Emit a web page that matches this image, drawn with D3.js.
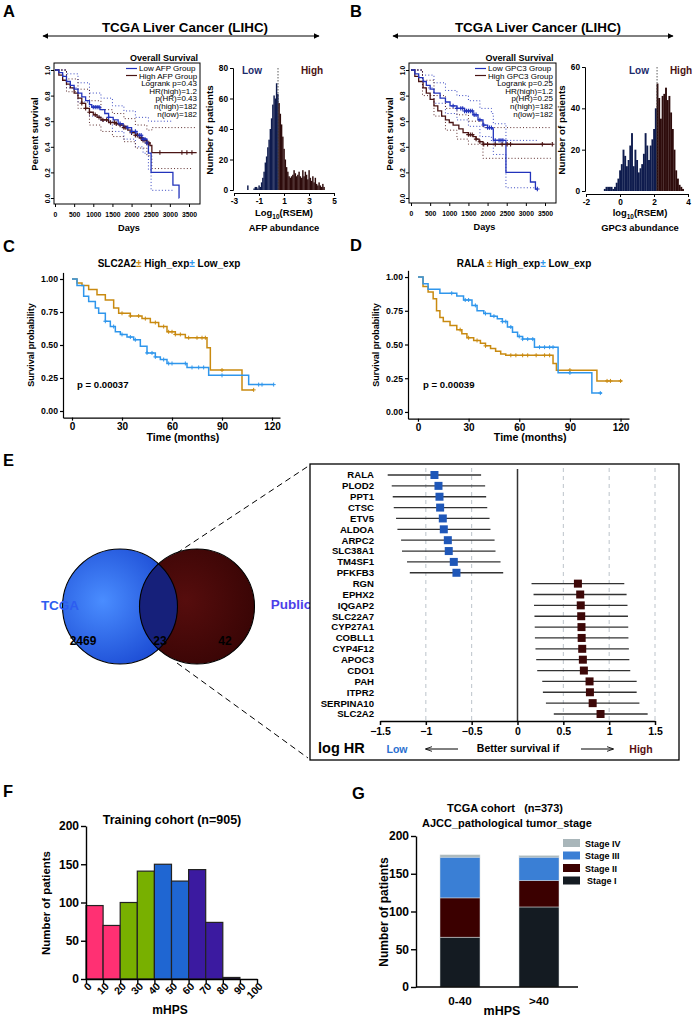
<!DOCTYPE html>
<html><head><meta charset="utf-8">
<script src="https://cdn.jsdelivr.net/npm/d3@7"></script>
<style>body{margin:0;background:#fff}svg{display:block}</style>
</head><body>
<svg id="c" width="693" height="1018"></svg>
<script>
// ================= DATA =================
const kmDaysTicks = [0,500,1000,1500,2000,2500,3000,3500];
const kmSurvTicks = [0,0.2,0.4,0.6,0.8,1.0];
// Panel A : AFP
const afpLow = [[0,1],[100,0.98],[200,0.95],[300,0.91],[400,0.88],[500,0.85],[600,0.82],[700,0.79],[800,0.76],[900,0.73],[960,0.71],[1175,0.69],[1300,0.66],[1400,0.63],[1520,0.61],[1650,0.58],[1780,0.56],[1880,0.55],[2000,0.52],[2140,0.49],[2270,0.46],[2400,0.43],[2440,0.35],[2510,0.20],[3080,0.10],[3240,0.0],[3245,0.0]];
const afpHigh = [[0,1],[100,0.96],[200,0.92],[300,0.89],[400,0.86],[500,0.82],[600,0.78],[700,0.74],[800,0.70],[900,0.67],[1000,0.65],[1100,0.63],[1200,0.61],[1400,0.59],[1600,0.58],[1700,0.57],[1800,0.55],[1900,0.53],[2000,0.51],[2100,0.49],[2200,0.47],[2300,0.45],[2400,0.43],[2480,0.41],[2530,0.355],[3700,0.355]];
const afpLowUp = [[0,1],[300,0.97],[600,0.90],[900,0.82],[1200,0.78],[1500,0.72],[1800,0.68],[2100,0.63],[2440,0.60],[3080,0.60]];
const afpLowLo = [[0,1],[300,0.86],[600,0.75],[900,0.64],[1200,0.60],[1500,0.52],[1800,0.46],[2100,0.40],[2300,0.35],[2440,0.22],[2510,0.06],[3080,0.06]];
const afpHighUp = [[0,1],[300,0.93],[600,0.85],[900,0.76],[1200,0.69],[1500,0.66],[1800,0.62],[2100,0.57],[2400,0.53],[2530,0.55],[3700,0.55]];
const afpHighLo = [[0,1],[300,0.83],[600,0.70],[900,0.57],[1200,0.52],[1500,0.48],[1800,0.44],[2100,0.39],[2400,0.33],[2530,0.23],[3600,0.23]];
const afpLowCens = [1000,1050,1100,1150,1400,1700,1900,2000,2100,2200,2250,2300,2350,2400];
const afpHighCens = [700,800,900,1050,1150,1250,1350,1450,1550,1600,1700,1800,1850,2000,2100,2150,2250,2300,2350,2400,2450,2740,3315,3445,3577];
const afpStats = ["Logrank p=0.43","HR(high)=1.2","p(HR)=0.43","n(high)=182","n(low)=182"];
// Panel B : GPC3
const gpcLow = [[0,1],[100,0.97],[200,0.94],[315,0.91],[400,0.88],[500,0.85],[600,0.82],[760,0.78],[900,0.75],[1020,0.72],[1200,0.70],[1400,0.68],[1620,0.65],[1750,0.61],[1880,0.57],[2000,0.55],[2120,0.54],[2150,0.45],[2480,0.20],[3120,0.125],[3250,0.07],[3300,0.07]];
const gpcHigh = [[0,1],[100,0.95],[200,0.91],[315,0.86],[400,0.82],[500,0.77],[600,0.72],[700,0.68],[800,0.64],[900,0.61],[1000,0.59],[1100,0.57],[1250,0.54],[1360,0.51],[1500,0.495],[1620,0.48],[1700,0.46],[1780,0.44],[1880,0.42],[3650,0.42]];
const gpcLowUp = [[0,1],[300,0.96],[600,0.90],[900,0.84],[1200,0.80],[1500,0.76],[1800,0.70],[2100,0.66],[2150,0.58],[2480,0.45],[3300,0.45]];
const gpcLowLo = [[0,1],[300,0.86],[600,0.74],[900,0.66],[1200,0.61],[1500,0.56],[1800,0.48],[2100,0.44],[2150,0.34],[2480,0.08],[3250,0.08]];
const gpcHighUp = [[0,1],[300,0.92],[600,0.80],[900,0.70],[1200,0.65],[1500,0.60],[1880,0.55],[3650,0.55]];
const gpcHighLo = [[0,1],[300,0.80],[600,0.64],[900,0.53],[1200,0.46],[1500,0.42],[1880,0.31],[3650,0.31]];
const gpcLowCens = [1100,1200,1300,1350,1400,1450,1500,1550,1600,1650,1700,1800,1900,2000,2050,2100,2200,2300,2350,2400,3300];
const gpcHighCens = [1500,1550,1600,1700,1800,1900,2000,2200,2380,2510,2600,3430,3690];
const gpcStats = ["Logrank p=0.25","HR(high)=1.2","p(HR)=0.25","n(high)=182","n(low)=182"];
// Histograms [bin centre (log10 RSEM), count]
const afpHist = [[-1.9,3],[-1.8,0],[-1.7,0],[-1.6,0],[-1.5,0],[-1.4,1],[-1.3,2],[-1.2,2],[-1.1,1],[-1.0,3],[-0.9,2],[-0.8,5],[-0.7,8],[-0.6,12],[-0.5,18],[-0.4,22],[-0.3,28],[-0.2,33],[-0.1,40],[0.0,47],[0.1,56],[0.2,62],[0.3,60],[0.4,70],[0.5,63],[0.6,57],[0.7,50],[0.8,43],[0.9,35],[1.0,27],[1.1,20],[1.2,15],[1.3,12],[1.4,9],[1.5,8],[1.6,9],[1.7,10],[1.8,13],[1.9,11],[2.0,9],[2.1,10],[2.2,12],[2.3,9],[2.4,8],[2.5,13],[2.6,9],[2.7,12],[2.8,10],[2.9,7],[3.0,13],[3.1,8],[3.2,6],[3.3,9],[3.4,5],[3.5,8],[3.6,4],[3.7,3],[3.8,5],[3.9,3],[4.0,2],[4.1,4],[4.2,2]];
const afpCut = 0.52;
const gpcHist = [[-0.9,1],[-0.8,2],[-0.7,2],[-0.6,2],[-0.5,2],[-0.4,1],[-0.3,2],[-0.2,4],[-0.1,6],[0.0,10],[0.1,13],[0.2,20],[0.3,17],[0.4,12],[0.5,15],[0.6,22],[0.7,28],[0.8,12],[0.9,20],[1.0,15],[1.1,9],[1.2,11],[1.3,13],[1.4,18],[1.5,28],[1.6,22],[1.7,15],[1.8,22],[1.9,25],[2.0,30],[2.1,40],[2.2,52],[2.3,45],[2.4,35],[2.5,46],[2.6,47],[2.7,50],[2.8,44],[2.9,46],[3.0,38],[3.1,30],[3.2,20],[3.3,10],[3.4,6],[3.5,3],[3.6,2],[3.7,1]];
const gpcCut = 2.18;
// Panel C / D (months)
const monthTicks = [0,30,60,90,120];
const probTicks = [0,0.25,0.5,0.75,1];
const slcHigh = [[0,1],[3,0.97],[6,0.95],[10,0.92],[15,0.88],[20,0.84],[25,0.78],[28,0.74],[35,0.72],[42,0.70],[47,0.67],[52,0.64],[57,0.60],[62,0.58],[68,0.555],[81,0.48],[83,0.31],[102,0.16],[109,0.16]];
const slcLow = [[0,1],[3,0.95],[7,0.87],[10,0.83],[14,0.78],[16,0.74],[20,0.68],[23,0.64],[26,0.60],[29,0.58],[33,0.56],[37,0.54],[41,0.49],[45,0.44],[50,0.41],[53,0.39],[57,0.36],[69,0.33],[82,0.27],[106,0.20],[121,0.20]];
const slcHighCens = [30,35,40,44,50,55,58,60,62,65,70,75,78,80,90,109];
const slcLowCens = [20,25,30,35,38,45,48,50,55,58,60,68,72,76,79,90,112,114,121];
const ralaHigh = [[0,1],[3,0.93],[6,0.89],[9,0.84],[11,0.75],[13,0.70],[15,0.67],[19,0.64],[23,0.61],[26,0.58],[29,0.55],[33,0.53],[37,0.51],[40,0.49],[43,0.47],[46,0.45],[49,0.43],[52,0.42],[80,0.36],[82,0.31],[106,0.23],[121,0.23]];
const ralaLow = [[0,1],[3,0.95],[6,0.91],[13,0.88],[23,0.86],[27,0.83],[32,0.79],[35,0.75],[39,0.73],[43,0.71],[47,0.69],[50,0.67],[53,0.63],[56,0.59],[59,0.56],[62,0.54],[69,0.48],[83,0.29],[103,0.14],[109,0.14]];
const ralaHighCens = [25,30,35,40,55,58,62,65,70,75,78,90,112,114,120];
const ralaLowCens = [20,28,30,34,40,45,50,52,55,60,62,65,68,72,75,78,80,90,108];
// Panel E : Venn + forest
const vennNames = ["TCGA","Public"];
const vennCounts = [2469,23,42];
const genes = ["RALA","PLOD2","PPT1","CTSC","ETV5","ALDOA","ARPC2","SLC38A1","TM4SF1","PFKFB3","RGN","EPHX2","IQGAP2","SLC22A7","CYP27A1","COBLL1","CYP4F12","APOC3","CDO1","PAH","ITPR2","SERPINA10","SLC2A2"];
const logHR = [-0.906,-0.862,-0.851,-0.844,-0.815,-0.804,-0.76,-0.75,-0.695,-0.666,0.659,0.684,0.69,0.695,0.698,0.70,0.706,0.713,0.724,0.786,0.79,0.82,0.906];
const logHRlo = [-1.416,-1.372,-1.361,-1.35,-1.325,-1.31,-1.27,-1.26,-1.205,-1.175,0.153,0.175,0.18,0.185,0.188,0.19,0.196,0.204,0.215,0.27,0.277,0.31,0.396];
const logHRhi = [-0.397,-0.353,-0.342,-0.33,-0.305,-0.295,-0.25,-0.24,-0.185,-0.156,1.165,1.19,1.20,1.205,1.208,1.21,1.215,1.22,1.23,1.30,1.30,1.33,1.42];
const hrTicks = [-1.5,-1,-0.5,0,0.5,1,1.5];
// Panel F
const fStart = [0,10,20,30,40,50,60,70,80,90];
const fCount = [96,70,100,141,150,128,143,74,2,0];
const fColor = ["#ff3073","#ff3073","#78b000","#78b000","#1f66d2","#1f66d2","#3b1aa0","#3b1aa0","#2a1060","#2a1060"];
const fTicks = [0,10,20,30,40,50,60,70,80,90,100];
const countTicks = [0,50,100,150,200];
// Panel G
const gGroups = ["0-40",">40"];
const gStages = ["Stage I","Stage II","Stage III","Stage IV"];
const gValues = {"0-40":{"Stage I":66,"Stage II":52,"Stage III":54,"Stage IV":3},">40":{"Stage I":106,"Stage II":35,"Stage III":31,"Stage IV":2}};
const gColors = ["#141b22","#3b0000","#3a7fd5","#a9b6ba"];

// ================= DRAWING =================
const svg = d3.select('#c').attr('font-family',"'Liberation Sans', Arial, Helvetica, sans-serif");
const defs = svg.append('defs');
defs.append('marker').attr('id','ah').attr('viewBox','0 0 10 10').attr('refX',9).attr('refY',5)
  .attr('markerWidth',6).attr('markerHeight',6).attr('orient','auto-start-reverse')
  .append('path').attr('d','M0,0L10,5L0,10z').attr('fill','#000');
defs.append('marker').attr('id','ao').attr('viewBox','0 0 10 10').attr('refX',9).attr('refY',5)
  .attr('markerWidth',7).attr('markerHeight',7).attr('orient','auto-start-reverse')
  .append('path').attr('d','M0,1.5L10,5L0,8.5').attr('fill','none').attr('stroke','#000').attr('stroke-width',1.2);

function T(g,x,y,s,o={}){
  const t=g.append('text').attr('x',x).attr('y',y).attr('font-size',o.size||10)
   .attr('font-weight',o.weight||'bold').attr('text-anchor',o.anchor||'start').attr('fill',o.fill||'#000').text(s);
  if(o.rotate) t.attr('transform',`rotate(${o.rotate},${x},${y})`);
  return t;
}
function styleAxis(a,size,w){
  a.attr('font-family',null).attr('font-size',null);
  a.selectAll('text').attr('font-size',size).attr('font-weight','bold').attr('fill','#000');
  a.selectAll('line').attr('stroke','#000').attr('stroke-width',w||1);
  a.select('.domain').attr('stroke','#000').attr('stroke-width',w||1);
}
function survAt(c,t){let v=c[0][1];for(const p of c){if(p[0]<=t)v=p[1];else break;}return v;}
function stepPath(g,x,y,c,color,w,dash){
  const line=d3.line().x(d=>x(d[0])).y(d=>y(d[1])).curve(d3.curveStepAfter);
  const p=g.append('path').attr('d',line(c)).attr('fill','none').attr('stroke',color).attr('stroke-width',w);
  if(dash)p.attr('stroke-dasharray',dash);
}
function censor(g,x,y,c,times,color,s,w){
  g.append('g').selectAll('path').data(times).join('path')
   .attr('d',t=>{const px=x(t),py=y(survAt(c,t));return `M${px-s},${py}H${px+s}M${px},${py-s}V${py+s}`;})
   .attr('stroke',color).attr('stroke-width',w).attr('fill','none');
}

// panel letters
[['A',3,17],['B',350,17],['C',3,252],['D',350,251],['E',3,466],['F',3,797],['G',352,799]].forEach(d=>T(svg,d[1],d[2],d[0],{size:16.5}));

// top titles with arrows
[[185,39,323],[538,389,677]].forEach(d=>{
  T(svg,d[0],32,'TCGA Liver Cancer (LIHC)',{size:13.4,anchor:'middle'});
  svg.append('line').attr('x1',d[1]+4).attr('x2',d[2]-4).attr('y1',36).attr('y2',36).attr('stroke','#000').attr('stroke-width',1)
   .attr('marker-start','url(#ah)').attr('marker-end','url(#ah)');
});

const KBLUE='#2233bb', KBROWN='#4a1414';
function kmAB(o){
  const g=svg.append('g');
  const x=d3.scaleLinear([0,3500],o.xr), y=d3.scaleLinear([0,1],[198,70]);
  const [bx,by,bw,bh]=o.box;
  const ax=g.append('g').attr('transform',`translate(0,${by+bh})`).call(d3.axisBottom(x).tickValues(kmDaysTicks).tickFormat(d3.format('d')).tickSize(3).tickPadding(5));
  ax.select('.domain').remove(); styleAxis(ax,6.8);
  const ay=g.append('g').attr('transform',`translate(${bx},0)`).call(d3.axisLeft(y).tickValues(kmSurvTicks).tickFormat(d3.format('.1f')).tickSize(3));
  ay.select('.domain').remove(); styleAxis(ay,6.8);
  ay.selectAll('text').attr('x',null).attr('dy',null).attr('text-anchor','middle').attr('transform','translate(-4,0) rotate(-90)');
  // CIs
  stepPath(g,x,y,o.lowUp,KBLUE,0.9,'1,2.2'); stepPath(g,x,y,o.lowLo,KBLUE,0.9,'1,2.2');
  stepPath(g,x,y,o.highUp,KBROWN,0.9,'1,2.2'); stepPath(g,x,y,o.highLo,KBROWN,0.9,'1,2.2');
  stepPath(g,x,y,o.high,KBROWN,1.3); stepPath(g,x,y,o.low,KBLUE,1.3);
  censor(g,x,y,o.high,o.highCens,KBROWN,2.2,1.1); censor(g,x,y,o.low,o.lowCens,KBLUE,2.2,1.1);
  g.append('rect').attr('x',bx).attr('y',by).attr('width',bw).attr('height',bh).attr('fill','none').attr('stroke','#000').attr('stroke-width',1);
  T(g,(bx+bx+bw)/2+3,61,'Overall Survival',{size:9});
  T(g,(bx+bx+bw)/2+2,by+bh+27,'Days',{size:9.2,anchor:'middle'});
  T(g,bx-16,134,'Percent survival',{size:9.5,anchor:'middle',rotate:-90});
  // legend
  const lx=o.legX;
  g.append('line').attr('x1',lx).attr('x2',lx+11).attr('y1',68.5).attr('y2',68.5).attr('stroke',KBLUE).attr('stroke-width',1.2);
  g.append('line').attr('x1',lx).attr('x2',lx+11).attr('y1',75.5).attr('y2',75.5).attr('stroke',KBROWN).attr('stroke-width',1.2);
  T(g,lx+13,71.3,o.names[0],{size:8,weight:'normal'});
  T(g,lx+13,78.5,o.names[1],{size:8,weight:'normal'});
  o.stats.forEach((s,i)=>T(g,o.statX,86+i*7.7,s,{size:8,weight:'normal',anchor:'end'}));
}
kmAB({xr:[55,189],box:[54,63,146,141],low:afpLow,high:afpHigh,lowUp:afpLowUp,lowLo:afpLowLo,highUp:afpHighUp,highLo:afpHighLo,
  lowCens:afpLowCens,highCens:afpHighCens,legX:126,statX:197,names:['Low AFP Group','High AFP Group'],stats:afpStats});
kmAB({xr:[411,545],box:[409,63,147,140],low:gpcLow,high:gpcHigh,lowUp:gpcLowUp,lowLo:gpcLowLo,highUp:gpcHighUp,highLo:gpcHighLo,
  lowCens:gpcLowCens,highCens:gpcHighCens,legX:475,statX:553,names:['Low GPC3 Group','High GPC3 Group'],stats:gpcStats});

// Histograms
function histo(o){
  const g=svg.append('g');
  const x=d3.scaleLinear(o.xd,o.xr), y=d3.scaleLinear(o.yd,o.yr);
  g.selectAll('rect').data(o.data).join('rect')
   .attr('x',d=>x(d[0]-0.05)).attr('width',d=>x(d[0]+0.05)-x(d[0]-0.05)+0.2)
   .attr('y',d=>y(d[1])).attr('height',d=>y(0)-y(d[1]))
   .attr('fill',d=>d[0]<o.cut?'#0f1c4e':'#2e0c0c');
  const ay=g.append('g').attr('transform',`translate(${o.xr[0]-1},0)`).call(d3.axisLeft(y).tickValues(o.yt).tickSize(3).tickPadding(2));
  styleAxis(ay,8.3);
  const ax=g.append('g').attr('transform',`translate(0,${o.yr[0]+3})`).call(d3.axisBottom(x).tickValues(o.xt).tickSize(3).tickPadding(2).tickFormat(d3.format('')));
  styleAxis(ax,8.3);
  ax.selectAll('text').text(d=>String(d).replace('−','-'));
  g.append('line').attr('x1',x(o.cut)).attr('x2',x(o.cut)).attr('y1',o.yr[1]).attr('y2',y(0)).attr('stroke','#333').attr('stroke-width',0.8).attr('stroke-dasharray','1.5,1.5');
  T(g,o.lowX,74,'Low',{size:10,anchor:'middle',fill:'#1b2a6b'});
  T(g,o.highX,74,'High',{size:10,anchor:'middle',fill:'#4a1212'});
  T(g,o.xr[0]-21,130,'Number of patients',{size:9.8,anchor:'middle',rotate:-90});
  const lab=T(g,o.labX,o.labY,o.logName,{size:9.4,anchor:'middle'});
  lab.append('tspan').attr('font-size',6.5).attr('dy',2.5).text('10');
  lab.append('tspan').attr('dy',-2.5).text('(RSEM)');
  T(g,o.labX,o.labY+15,o.abund,{size:9.4,anchor:'middle'});
}
histo({xd:[-3,5],xr:[234,334],yd:[0,80],yr:[190,68],yt:[0,20,40,60,80],xt:[-3,-1,1,3,5],data:afpHist,cut:afpCut,
  lowX:252,highX:312,labX:284,labY:216,logName:'Log',abund:'AFP abundance'});
histo({xd:[-2,4],xr:[586,688],yd:[0,60],yr:[191,67],yt:[0,20,40,60],xt:[-2,0,2,4],data:gpcHist,cut:gpcCut,
  lowX:639,highX:681,labX:640,labY:216,logName:'log',abund:'GPC3 abundance'});

// C / D survminer plots
const ORANGE='#c98a10', LBLUE='#2f96ec';
function kmCD(o){
  const g=svg.append('g');
  const x=d3.scaleLinear(o.xd,o.xr), y=d3.scaleLinear([-0.05,1.05],o.yr);
  stepPath(g,x,y,o.high,ORANGE,1.5); stepPath(g,x,y,o.low,LBLUE,1.5);
  censor(g,x,y,o.high,o.highCens,ORANGE,2,1); censor(g,x,y,o.low,o.lowCens,LBLUE,2,1);
  const ay=g.append('g').attr('transform',`translate(${o.xr[0]},0)`).call(d3.axisLeft(y).tickValues(probTicks).tickFormat(d3.format('.2f')).tickSize(3).tickPadding(2).tickSizeOuter(0));
  styleAxis(ay,8.7,1.2);
  const ax=g.append('g').attr('transform',`translate(0,${o.yr[0]})`).call(d3.axisBottom(x).tickValues(monthTicks).tickSize(3).tickPadding(2).tickSizeOuter(0));
  styleAxis(ax,10,1.2);
  T(g,(x(0)+x(120))/2+11,441,'Time (months)',{size:10.6,anchor:'middle'});
  T(g,o.xr[0]-29,345,'Survival probability',{size:9,anchor:'middle',rotate:-90});
  T(g,o.pX,388,o.p,{size:9.6});
  const t=T(g,o.tX,267,o.gene,{size:10,anchor:'middle'});
  t.append('tspan').attr('fill',ORANGE).text('±');
  t.append('tspan').text(' High_exp');
  t.append('tspan').attr('fill',LBLUE).text('±');
  t.append('tspan').text(' Low_exp');
}
kmCD({xd:[-5.4,124.8],xr:[63,280],yr:[417.6,272.4],high:slcHigh,low:slcLow,highCens:slcHighCens,lowCens:slcLowCens,
  pX:77,p:'p = 0.00037',tX:169,gene:'SLC2A2'});
kmCD({xd:[-5.9,125],xr:[408,629],yr:[418.7,270.3],high:ralaHigh,low:ralaLow,highCens:ralaHighCens,lowCens:ralaLowCens,
  pX:423,p:'p = 0.00039',tX:524,gene:'RALA '});

// Venn
const vg=svg.append('g');
const rg1=defs.append('radialGradient').attr('id','gb').attr('cx','35%').attr('cy','45%').attr('r','70%');
rg1.append('stop').attr('offset','0%').attr('stop-color','#4a8dff');
rg1.append('stop').attr('offset','100%').attr('stop-color','#1846d0');
const rg2=defs.append('radialGradient').attr('id','gr').attr('cx','40%').attr('cy','45%').attr('r','70%');
rg2.append('stop').attr('offset','0%').attr('stop-color','#560d0d');
rg2.append('stop').attr('offset','100%').attr('stop-color','#360404');
const vc=[{cx:120,cy:606.5,r:57.5},{cx:197,cy:606.5,r:57.5}];
defs.append('clipPath').attr('id','clipR').append('circle').attr('cx',vc[1].cx).attr('cy',vc[1].cy).attr('r',vc[1].r);
vg.append('circle').attr('cx',vc[0].cx).attr('cy',vc[0].cy).attr('r',vc[0].r).attr('fill','url(#gb)');
vg.append('circle').attr('cx',vc[1].cx).attr('cy',vc[1].cy).attr('r',vc[1].r).attr('fill','url(#gr)');
vg.append('circle').attr('cx',vc[0].cx).attr('cy',vc[0].cy).attr('r',vc[0].r).attr('fill','#16207a').attr('clip-path','url(#clipR)');
vc.forEach(c=>vg.append('circle').attr('cx',c.cx).attr('cy',c.cy).attr('r',c.r).attr('fill','none').attr('stroke','#000').attr('stroke-width',1.1));
T(vg,60,610,vennNames[0],{size:13.5,anchor:'middle',fill:'#2d5df0'});
T(vg,291,609,vennNames[1],{size:13.5,anchor:'middle',fill:'#4d3fe8'});
T(vg,83,645,vennCounts[0],{size:12,anchor:'middle'});
T(vg,160,645,vennCounts[1],{size:12,anchor:'middle'});
T(vg,225,645,vennCounts[2],{size:12,anchor:'middle'});
vg.append('line').attr('x1',177).attr('y1',553).attr('x2',310).attr('y2',465).attr('stroke','#000').attr('stroke-width',1).attr('stroke-dasharray','6,4');
vg.append('line').attr('x1',177).attr('y1',663).attr('x2',308).attr('y2',758).attr('stroke','#000').attr('stroke-width',1).attr('stroke-dasharray','6,4');

// Forest
const fg=svg.append('g');
fg.append('rect').attr('x',310).attr('y',464).attr('width',369).attr('height',296).attr('fill','#fff').attr('stroke','#000').attr('stroke-width',1.3);
const hx=d3.scaleLinear([-1.5,1.5],[380,655]);
const gy=d3.scalePoint().domain(genes).range([475,714]);
fg.selectAll('line.grid').data(hrTicks.filter(d=>d!==0&&d!==-1.5)).join('line').attr('class','grid')
  .attr('x1',d=>hx(d)).attr('x2',d=>hx(d)).attr('y1',468).attr('y2',720).attr('stroke','#b4bcc4').attr('stroke-width',0.9).attr('stroke-dasharray','4,4');
fg.append('line').attr('x1',hx(0)).attr('x2',hx(0)).attr('y1',469).attr('y2',721).attr('stroke','#333').attr('stroke-width',1.5);
const fAx=fg.append('g').attr('transform','translate(0,721)').call(d3.axisBottom(hx).tickValues(hrTicks).tickFormat(d3.format('')).tickSize(4).tickPadding(3).tickSizeOuter(0));
styleAxis(fAx,10.5,1.5);
fg.selectAll('line.ci').data(genes).join('line').attr('class','ci')
  .attr('x1',(d,i)=>hx(logHRlo[i])).attr('x2',(d,i)=>hx(logHRhi[i])).attr('y1',d=>gy(d)).attr('y2',d=>gy(d)).attr('stroke','#333').attr('stroke-width',1.3);
fg.selectAll('rect.pt').data(genes).join('rect').attr('class','pt')
  .attr('x',(d,i)=>hx(logHR[i])-4).attr('y',d=>gy(d)-4).attr('width',8).attr('height',8)
  .attr('fill',(d,i)=>logHR[i]<0?'#1f57b8':'#3d0808');
fg.selectAll('text.gn').data(genes).join('text').attr('class','gn').attr('x',374).attr('y',d=>gy(d)+3.4)
  .attr('text-anchor','end').attr('font-size',9.6).attr('font-weight','bold').text(d=>d);
T(fg,318,753,'log HR',{size:14.5});
T(fg,397,753,'Low',{size:10.5,anchor:'middle',fill:'#2a6fcf'});
T(fg,641,753,'High',{size:10.5,anchor:'middle',fill:'#5a1010'});
T(fg,518,752,'Better survival if',{size:10.5,anchor:'middle'});
fg.append('line').attr('x1',458).attr('x2',426).attr('y1',749).attr('y2',749).attr('stroke','#000').attr('stroke-width',1).attr('marker-end','url(#ao)');
fg.append('line').attr('x1',581).attr('x2',613).attr('y1',749).attr('y2',749).attr('stroke','#000').attr('stroke-width',1).attr('marker-end','url(#ao)');

// Panel F
const Fg=svg.append('g');
const fxs=d3.scaleLinear([0,100],[86,257]), fys=d3.scaleLinear([0,200],[979,826]);
Fg.selectAll('rect').data(fStart).join('rect').attr('x',d=>fxs(d)).attr('width',d=>fxs(d+10)-fxs(d))
  .attr('y',(d,i)=>fys(fCount[i])).attr('height',(d,i)=>fys(0)-fys(fCount[i]))
  .attr('fill',(d,i)=>fColor[i]).attr('stroke','#222').attr('stroke-width',1.2);
const fay=Fg.append('g').attr('transform','translate(86,0)').call(d3.axisLeft(fys).tickValues(countTicks).tickSize(5).tickPadding(2).tickSizeOuter(0));
styleAxis(fay,12,1.4);
const fax=Fg.append('g').attr('transform','translate(0,979)').call(d3.axisBottom(fxs).tickValues(fTicks).tickSize(5).tickSizeOuter(0));
styleAxis(fax,10.5,1.4);
fax.selectAll('text').attr('y',null).attr('dy',null).attr('text-anchor','end').attr('transform','translate(6,8) rotate(-45)');
T(Fg,172,824,'Training cohort (n=905)',{size:12.5,anchor:'middle'});
T(Fg,50,903,'Number of patients',{size:11.4,anchor:'middle',rotate:-90});
T(Fg,170,1014,'mHPS',{size:12,anchor:'middle'});

// Panel G
const Gg=svg.append('g');
const gxs=d3.scalePoint().domain(gGroups).range([460,539]);
const gys=d3.scaleLinear([0,200],[987,836]);
const stack=d3.stack().keys(gStages)(gGroups.map(k=>Object.assign({grp:k},gValues[k])));
stack.forEach((layer,li)=>{
  Gg.append('g').selectAll('rect').data(layer).join('rect')
    .attr('x',d=>gxs(d.data.grp)-20).attr('width',40).attr('y',d=>gys(d[1])).attr('height',d=>gys(d[0])-gys(d[1]))
    .attr('fill',gColors[li]).attr('stroke','#d8dde0').attr('stroke-width',0.5);
});
const gay=Gg.append('g').attr('transform','translate(416,0)').call(d3.axisLeft(gys).tickValues(countTicks).tickSize(5).tickPadding(2).tickSizeOuter(0));
styleAxis(gay,12,1.4);
const gax=Gg.append('g').attr('transform','translate(0,987)');
gax.append('line').attr('x1',416).attr('x2',578).attr('y1',0).attr('y2',0).attr('stroke','#000').attr('stroke-width',1.4);
gGroups.forEach(k=>T(gax,gxs(k),18,k,{size:11.7,anchor:'middle'}));
T(Gg,505,812,'TCGA cohort   (n=373)',{size:11}).attr('text-anchor','middle').attr('xml:space','preserve').style('white-space','pre');
T(Gg,507,827,'AJCC_pathological tumor_stage',{size:11,anchor:'middle'});
T(Gg,388,912,'Number of patients',{size:12,anchor:'middle',rotate:-90});
T(Gg,502,1015,'mHPS',{size:12.5,anchor:'middle'});
const legOrder=[3,2,1,0];
legOrder.forEach((si,i)=>{
  Gg.append('rect').attr('x',563).attr('y',839+i*12.5).attr('width',17).attr('height',8).attr('fill',gColors[si]);
  T(Gg,585+(si===0?2:0),846.5+i*12.5,gStages[si],{size:9});
});
</script></body></html>
